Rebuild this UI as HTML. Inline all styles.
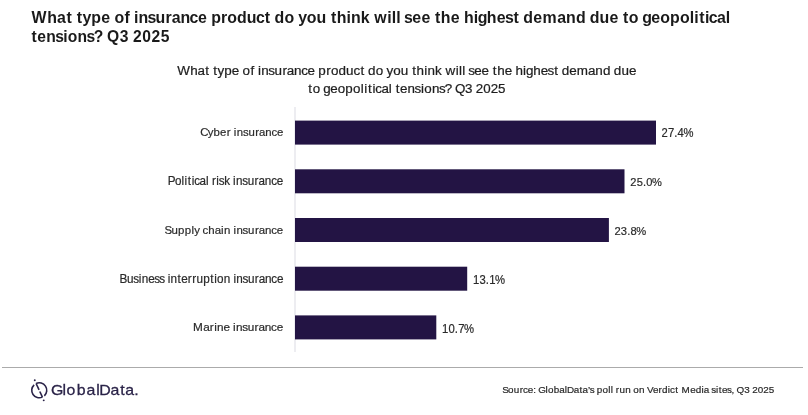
<!DOCTYPE html>
<html><head><meta charset="utf-8"><title>Insurance demand due to geopolitical tensions</title>
<style>
html,body{margin:0;padding:0;background:#fff;}
body{width:808px;height:415px;overflow:hidden;position:relative;}
svg{position:absolute;left:0;top:0;display:block;will-change:transform;}
text{font-family:"Liberation Sans", Arial, sans-serif;}
</style></head><body>
<svg width="808" height="415" viewBox="0 0 808 415">
<rect x="294" y="107" width="2" height="245" fill="#ededf1"/>
<rect x="2" y="367" width="801" height="1" fill="#ababab"/>
<rect x="295" y="120.6" width="361.0" height="24" fill="#231444"/>
<rect x="295" y="169.3" width="329.5" height="24" fill="#231444"/>
<rect x="295" y="218.0" width="313.9" height="24" fill="#231444"/>
<rect x="295" y="266.7" width="172.2" height="24" fill="#231444"/>
<rect x="295" y="315.4" width="141.3" height="24" fill="#231444"/>
<text transform="scale(0.9756,1)" x="32.29 48.49 58.56 68.14 73.86 78.76 84.60 93.59 103.75 112.84 117.25 127.50 133.02 137.42 142.01 151.20 159.49 169.63 176.00 184.97 194.34 202.95 212.04 216.44 226.58 233.00 242.92 252.95 262.32 271.29 277.09 281.49 291.53 301.38 305.64 314.54 324.48 334.32 339.22 345.20 355.23 359.82 369.76 378.63 383.62 396.96 401.55 406.13 410.54 414.11 422.54 431.94 441.03 445.93 451.91 462.07 471.16 475.56 485.59 489.59 499.04 509.20 517.63 526.31 532.01 536.41 546.57 556.16 571.09 580.26 590.29 600.13 604.54 614.56 624.73 633.81 638.71 644.61 654.38 658.20 667.67 676.85 686.89 696.92 706.96 711.55 716.63 722.55 726.41 734.88 744.00" y="22.6" font-size="16.317" font-weight="bold" fill="#1a1a1a">What type of insurance product do you think will see the highest demand due to geopolitical</text>
<text transform="scale(0.9631,1)" x="32.65 38.74 48.00 57.28 65.64 70.32 80.46 89.74 97.44 106.67 111.20 124.27 133.46 138.12 147.69 157.26 166.83" y="42.1" font-size="16.244" font-weight="bold" fill="#1a1a1a">tensions? Q3 2025</text>
<text transform="scale(1.0329,1)" x="171.65 184.15 191.22 198.71 202.59 206.55 210.65 217.17 224.38 231.29 234.79 242.47 246.21 249.78 252.92 259.75 265.84 273.45 277.68 284.62 291.66 297.78 304.70 308.17 315.79 320.39 327.69 335.10 342.14 348.93 352.89 356.37 363.78 370.91 374.24 380.69 388.03 395.14 399.09 403.34 410.84 413.98 421.25 427.49 431.22 441.14 444.37 447.61 450.45 453.35 459.25 466.26 473.17 477.12 481.37 488.58 495.49 498.97 506.47 509.22 516.24 523.45 530.08 536.56 540.44 543.91 551.12 558.45 569.26 576.34 583.74 590.85 594.33 601.73 608.94" y="74.7" font-size="13.043" font-weight="normal" fill="#1e1e1e" stroke="#1e1e1e" stroke-width="0.22">What type of insurance product do you think will see the highest demand due</text>
<text transform="scale(1.0199,1)" x="302.24 306.54 313.70 316.87 323.76 331.06 338.61 346.17 353.79 357.09 360.77 365.14 367.94 373.99 381.20 384.11 388.13 392.21 399.47 406.42 412.69 415.93 423.49 430.43 436.20 442.97 446.14 456.06 463.15 466.58 473.86 481.13 488.41" y="92.9" font-size="13.106" font-weight="normal" fill="#1e1e1e" stroke="#1e1e1e" stroke-width="0.22">to geopolitical tensions? Q3 2025</text>
<text transform="scale(0.9635,1)" x="207.82 215.61 221.71 228.43 235.31 239.41 242.74 245.74 252.10 257.79 264.85 268.85 275.32 281.88 287.61" y="136.1" font-size="11.821" font-weight="normal" fill="#2a2a2a" stroke="#2a2a2a" stroke-width="0.2">Cyber insurance</text>
<text transform="scale(0.9768,1)" x="171.66 179.04 185.86 188.88 192.25 196.24 198.82 204.35 210.94 213.60 217.04 221.49 223.92 229.47 235.26 238.58 241.55 247.90 253.58 260.65 264.62 271.08 277.63 283.34" y="185.0" font-size="11.949" font-weight="normal" fill="#2a2a2a" stroke="#2a2a2a" stroke-width="0.2">Political risk insurance</text>
<text transform="scale(0.9671,1)" x="170.13 177.25 184.15 191.05 197.97 200.81 206.57 209.52 215.42 222.01 228.63 231.62 238.19 241.51 244.49 250.84 256.53 263.58 267.56 274.02 280.57 286.28" y="234.0" font-size="11.841" font-weight="normal" fill="#2a2a2a" stroke="#2a2a2a" stroke-width="0.2">Supply chain insurance</text>
<text transform="scale(0.9884,1)" x="120.96 128.53 134.78 140.44 143.33 149.94 156.01 161.07 166.37 169.64 172.54 179.69 183.29 190.00 194.51 198.83 205.62 212.80 216.70 219.56 226.36 232.86 236.13 239.03 245.28 250.87 257.84 261.73 268.09 274.54 280.16" y="282.8" font-size="11.874" font-weight="normal" fill="#2a2a2a" stroke="#2a2a2a" stroke-width="0.2">Business interruption insurance</text>
<text transform="scale(0.9958,1)" x="193.87 204.08 210.71 215.08 217.95 224.52 230.82 234.07 236.94 243.16 248.71 255.65 259.50 265.82 272.24 277.82" y="331.0" font-size="11.805" font-weight="normal" fill="#2a2a2a" stroke="#2a2a2a" stroke-width="0.2">Marine insurance</text>
<text transform="scale(0.9458,1)" x="699.42 706.23 712.96 716.42 722.66" y="136.9" font-size="11.868" font-weight="normal" fill="#2a2a2a" stroke="#2a2a2a" stroke-width="0.2">27.4%</text>
<text transform="scale(0.9458,1)" x="666.44 673.18 679.85 683.27 689.45" y="185.8" font-size="11.754" font-weight="normal" fill="#2a2a2a" stroke="#2a2a2a" stroke-width="0.2">25.0%</text>
<text transform="scale(0.9458,1)" x="649.63 656.41 663.12 666.57 672.79" y="234.75" font-size="11.830" font-weight="normal" fill="#2a2a2a" stroke="#2a2a2a" stroke-width="0.2">23.8%</text>
<text transform="scale(0.9458,1)" x="500.21 507.00 513.72 517.17 523.39" y="283.6" font-size="11.951" font-weight="normal" fill="#2a2a2a" stroke="#2a2a2a" stroke-width="0.2">13.1%</text>
<text transform="scale(0.9458,1)" x="467.44 474.22 480.94 484.39 490.61" y="332.8" font-size="11.951" font-weight="normal" fill="#2a2a2a" stroke="#2a2a2a" stroke-width="0.2">10.7%</text>
<text transform="scale(1.0234,1)" x="490.70 496.50 502.11 507.84 511.07 515.63 521.05 523.68 525.84 533.11 535.53 541.15 546.50 551.89 553.98 560.62 566.25 569.13 574.56 576.31 580.35 583.01 588.62 594.27 596.72 598.88 601.67 605.26 610.86 616.21 618.88 624.50 629.84 632.20 638.15 643.47 646.98 652.54 654.68 659.79 662.78 665.87 674.41 679.87 685.50 687.67 692.77 694.99 699.64 702.38 705.42 710.37 714.86 717.39 719.78 727.13 732.38 734.95 740.35 745.76 751.16" y="392.9" font-size="9.664" font-weight="normal" fill="#2a2a2a" stroke="#2a2a2a" stroke-width="0.2">Source: GlobalData’s poll run on Verdict Media sites, Q3 2025</text>
<text transform="scale(1.1358,1)" x="44.87 55.07 58.55 67.52 76.10 84.66 87.44 97.23 105.94 110.22 118.22" y="395.1" font-size="14.0" fill="#2a2348" stroke="#2a2348" stroke-width="0.25">GlobalData.</text>
<g fill="none" stroke="#2a2348" stroke-width="1.6">
  <path d="M 36.08 383.50 A 7.5 7.5 0 0 1 44.36 395.79"/>
  <path d="M 36.08 383.50 L 39.08 389.94"/>
  <path d="M 34.14 384.81 A 7.5 7.5 0 0 0 42.42 397.10"/>
  <path d="M 42.42 397.10 L 39.80 391.48"/>
</g>
<circle cx="34.78" cy="380.25" r="0.95" fill="#2a2348"/>
<circle cx="43.72" cy="400.35" r="0.95" fill="#2a2348"/>
</svg>
</body></html>
